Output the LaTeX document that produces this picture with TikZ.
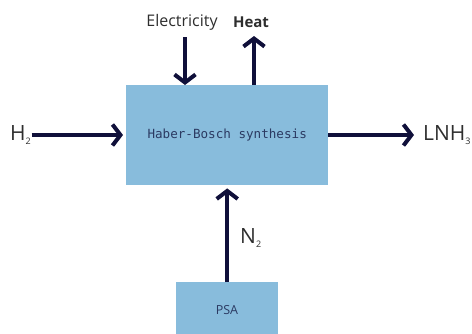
\documentclass[tikz,border=0pt]{standalone}
\usepackage{fontspec}
\setmainfont{Open Sans}
\setmonofont{DejaVu Sans Mono}
\usetikzlibrary{arrows.meta}
\definecolor{boxfill}{HTML}{88BCDC}
\definecolor{arrowc}{HTML}{10103A}
\definecolor{boxtext}{HTML}{2B3A62}
\definecolor{labtext}{HTML}{2E2E2E}
\begin{document}
\begin{tikzpicture}[x=1pt,y=-1pt,
  procbox/.style={fill=boxfill, draw=none, inner sep=0pt, anchor=north west},
  flow/.style={draw=arrowc, line width=4pt, -{Straight Barb[length=8pt,width=21pt,line width=4pt]}},
  lab/.style={text=labtext, inner sep=0pt},
  big/.style={lab, font=\fontsize{21}{24}\selectfont}
]
\useasboundingbox (0,0) rectangle (472,333);
\node[procbox, minimum width=202pt, minimum height=100pt] (hb) at (126,85) {};
\node[font=\ttfamily\fontsize{12.6}{14}\selectfont, text=boxtext] at (hb.center) {Haber-Bosch synthesis};
\node[procbox, minimum width=102pt, minimum height=60pt] (psa) at (176,282) {};
\node[font=\fontsize{12.5}{14}\selectfont, text=boxtext] at (227,310) {PSA};
% labels
\node[lab, font=\fontsize{16}{19}\selectfont] (el) at (182,22) {Electricity};
\node[lab, font=\bfseries\fontsize{15}{18}\selectfont] (heat) at (251,22) {Heat};
\node[big, anchor=west] (h2) at (10,135) {H\textsubscript{\fontsize{9}{10}\selectfont 2}};
\node[big, anchor=west] (lnh3) at (423,135) {LNH\textsubscript{\fontsize{9}{10}\selectfont 3}};
\node[big, anchor=west] (n2) at (240,238) {N\textsubscript{\fontsize{9}{10}\selectfont 2}};
% connector endpoints
\coordinate (elS) at (185,37);
\coordinate (heatE) at (254,36);
\coordinate (lnhE) at (414,135);
% arrows
\draw[flow] (elS) -- (elS|-hb.north);
\draw[flow] (heatE|-hb.north) -- (heatE);
\draw[flow, shorten >=3pt] (h2.east) -- (hb.west|-h2.east);
\draw[flow] (hb.east|-lnhE) -- (lnhE);
\draw[flow, shorten >=3pt] (psa.north) -- (psa.north|-hb.south);
\end{tikzpicture}
\end{document}
